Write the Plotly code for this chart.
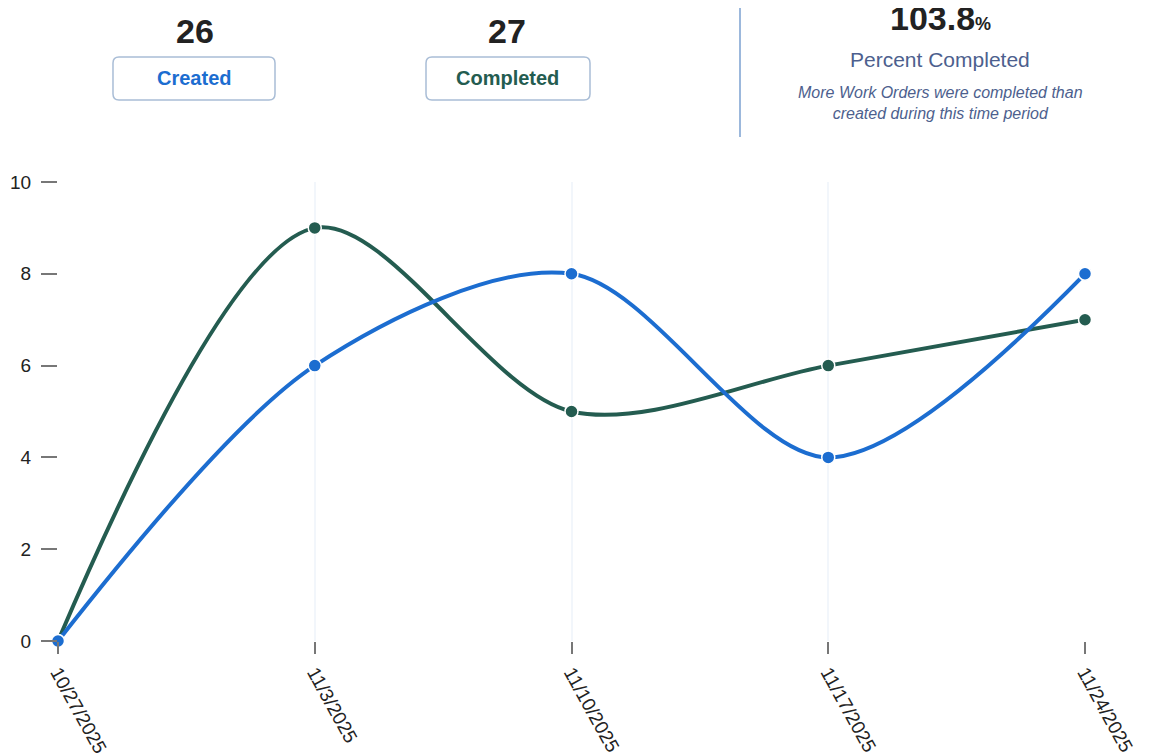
import plotly.graph_objects as go

dates = ["10/27/2025", "11/3/2025", "11/10/2025", "11/17/2025", "11/24/2025"]
created = [0, 6, 8, 4, 8]
completed = [0, 9, 5, 6, 7]
y_ticks = [0, 2, 4, 6, 8, 10]
total_created = 26
total_completed = 27
pct_completed = "103.8"

BLUE = "#1c6dd0"
GREEN = "#245c50"

OFF = 8  # page body margin
W, H = 1151 - OFF, 756 - OFF
L, R, T, B = 58 - OFF, 66, 182 - OFF, 115
PW, PH = W - L - R, H - T - B

def px(x):
    # x in screenshot pixels -> paper
    return (x - OFF - L) / PW

def py(y):
    return (H - B - (y - OFF)) / PH

def rounded_rect(x0, y0, x1, y1, r):
    def P(x, y):
        return f"{px(x):.5f},{py(y):.5f}"
    return (f"M {P(x0 + r, y0)} L {P(x1 - r, y0)} Q {P(x1, y0)} {P(x1, y0 + r)} "
            f"L {P(x1, y1 - r)} Q {P(x1, y1)} {P(x1 - r, y1)} "
            f"L {P(x0 + r, y1)} Q {P(x0, y1)} {P(x0, y1 - r)} "
            f"L {P(x0, y0 + r)} Q {P(x0, y0)} {P(x0 + r, y0)} Z")

fig = go.Figure()
fig.add_trace(go.Scatter(
    x=dates, y=completed, mode="lines+markers", name="Completed",
    line=dict(color=GREEN, width=4, shape="spline", smoothing=0.9),
    marker=dict(color=GREEN, size=13, line=dict(color="white", width=1.5)),
    cliponaxis=False))
fig.add_trace(go.Scatter(
    x=dates, y=created, mode="lines+markers", name="Created",
    line=dict(color=BLUE, width=4, shape="spline", smoothing=0.9),
    marker=dict(color=BLUE, size=13, line=dict(color="white", width=1.5)),
    cliponaxis=False))

font_fam = "Liberation Sans, Arial, sans-serif"

fig.update_layout(
    width=W, height=H,
    margin=dict(l=L, r=R, t=T, b=B, autoexpand=False),
    plot_bgcolor="white", paper_bgcolor="white",
    showlegend=False,
    font=dict(family=font_fam, color="#222222", size=19),
    xaxis=dict(type="category", range=[0, 4], showgrid=True, gridcolor="#f2f6fb",
               gridwidth=1.5, zeroline=False, showline=False, automargin=False,
               ticks="outside", ticklen=12, tickcolor="#777777", tickwidth=1.5,
               tickangle=61, tickfont=dict(size=19, color="#222222")),
    yaxis=dict(range=[0, 10], tickvals=y_ticks, showgrid=False, zeroline=False,
               showline=False, automargin=False, ticks="outside", ticklen=16,
               tickcolor="#777777", tickwidth=1.5, ticklabelstandoff=6,
               tickfont=dict(size=19, color="#222222")),
)

shapes = [
    dict(type="path", xref="paper", yref="paper",
         path=rounded_rect(113, 57, 275, 100, 6),
         line=dict(color="#a9bdd6", width=1.5), fillcolor="rgba(0,0,0,0)"),
    dict(type="path", xref="paper", yref="paper",
         path=rounded_rect(426, 57, 590, 100, 6),
         line=dict(color="#a9bdd6", width=1.5), fillcolor="rgba(0,0,0,0)"),
    dict(type="line", xref="paper", yref="paper",
         x0=px(740), x1=px(740), y0=py(0), y1=py(137),
         line=dict(color="#9cb8dc", width=2)),
]
fig.update_layout(shapes=shapes)

anns = [
    dict(x=px(195), y=py(31), text=f"<b>{total_created}</b>",
         font=dict(size=34, color="#222222")),
    dict(x=px(194), y=py(78), text="<b>Created</b>",
         font=dict(size=20, color=BLUE)),
    dict(x=px(507), y=py(31), text=f"<b>{total_completed}</b>",
         font=dict(size=34, color="#222222")),
    dict(x=px(507), y=py(78), text="<b>Completed</b>",
         font=dict(size=20, color=GREEN)),
    dict(x=px(940), y=py(18),
         text=f"<b>{pct_completed}</b><b><span style='font-size:18px'>%</span></b>",
         font=dict(size=34, color="#222222")),
    dict(x=px(940), y=py(60), text="Percent Completed",
         font=dict(size=21, color="#4d5f8e")),
    dict(x=px(940), y=py(103),
         text="<i>More Work Orders were completed than<br>created during this time period</i>",
         font=dict(size=16, color="#4d5f8e")),
]
for a in anns:
    a.update(xref="paper", yref="paper", showarrow=False,
             xanchor="center", yanchor="middle")
fig.update_layout(annotations=anns)

fig.write_html("out.html")
